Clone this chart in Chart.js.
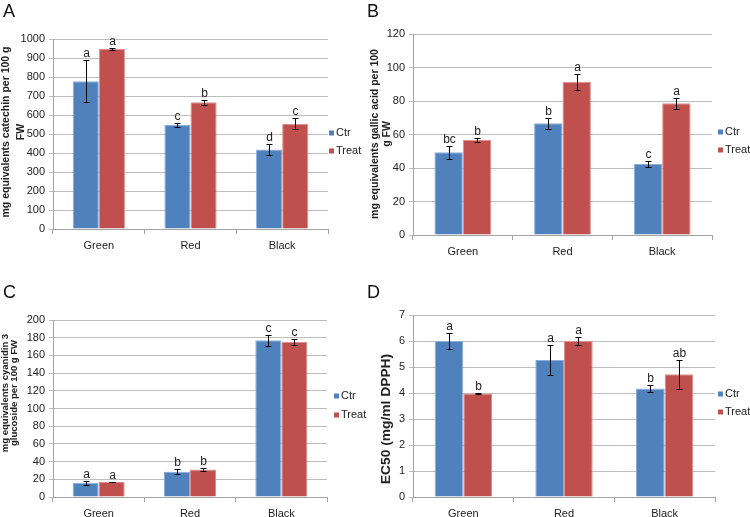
<!DOCTYPE html>
<html>
<head>
<meta charset="utf-8">
<script src="https://cdn.jsdelivr.net/npm/chart.js@4.4.1/dist/chart.umd.min.js"></script>
<style>
  body { margin:0; background:#fff; width:750px; height:517px; position:relative; overflow:hidden; font-family:"Liberation Sans", Arial, sans-serif; }
  canvas { position:absolute; }
  .tag { position:absolute; font-size:18px; line-height:18px; color:#111; }
</style>
</head>
<body>
<canvas id="chartA" width="375" height="258" style="left:0;top:0"></canvas>
<canvas id="chartB" width="390" height="258" style="left:360px;top:0"></canvas>
<canvas id="chartC" width="375" height="259" style="left:0;top:258px"></canvas>
<canvas id="chartD" width="390" height="259" style="left:360px;top:258px"></canvas>
<div class="tag" style="left:3px;top:2px">A</div>
<div class="tag" style="left:367px;top:2px">B</div>
<div class="tag" style="left:3px;top:283px">C</div>
<div class="tag" style="left:367px;top:283px">D</div>
<script>
Chart.defaults.font.family = "'Liberation Sans', Arial, sans-serif";
Chart.defaults.color = '#222';

const categories = ['Green', 'Red', 'Black'];
const seriesNames = ['Ctr', 'Treat'];

// A - catechin
const catechinCtr = [778, 547, 418];
const catechinCtrErr = [110, 12, 28];
const catechinTreat = [948, 667, 554];
const catechinTreatErr = [4, 13, 30];
const catechinLetters = [['a', 'c', 'd'], ['a', 'b', 'c']];
const catechinTicks = [0, 1000, 100];

// B - gallic acid
const gallicCtr = [49.4, 66.7, 42.4];
const gallicCtrErr = [4, 3.2, 1.6];
const gallicTreat = [56.7, 91.5, 78.6];
const gallicTreatErr = [1, 4.8, 3.3];
const gallicLetters = [['bc', 'b', 'c'], ['b', 'a', 'a']];
const gallicTicks = [0, 120, 20];

// C - cyanidin 3 glucoside
const cyanCtr = [16.1, 28.5, 177];
const cyanCtrErr = [2, 3, 6];
const cyanTreat = [16.9, 31.2, 175.1];
const cyanTreatErr = [0.5, 2, 3.4];
const cyanLetters = [['a', 'b', 'c'], ['a', 'b', 'c']];
const cyanTicks = [0, 200, 20];

// D - EC50
const ec50Ctr = [6.0, 5.27, 4.17];
const ec50CtrErr = [0.32, 0.57, 0.15];
const ec50Treat = [3.98, 6.0, 4.72];
const ec50TreatErr = [0.02, 0.16, 0.55];
const ec50Letters = [['a', 'a', 'b'], ['b', 'a', 'ab']];
const ec50Ticks = [0, 7, 1];

const FILL = ['#4f81bd', '#c0504d'];
const EDGE = ['#8aaedb', '#dc8f8d'];
const GRID = '#bdbdbd';
const AXIS = '#a3a3a3';
const FONT = "'Liberation Sans', Arial, sans-serif";

// error bars + significance letters
const errorBars = {
    id: 'errorBars',
    afterDatasetsDraw(chart) {
        const ctx = chart.ctx, y = chart.scales.y;
        ctx.save();
        chart.data.datasets.forEach((ds, i) => {
            chart.getDatasetMeta(i).data.forEach((bar, j) => {
                const x = Math.round(bar.x) + 0.5;
                const top = Math.round(y.getPixelForValue(ds.data[j] + ds.errors[j])) + 0.5;
                const bot = Math.round(y.getPixelForValue(ds.data[j] - ds.errors[j])) + 0.5;
                ctx.strokeStyle = '#000';
                ctx.lineWidth = 1;
                ctx.beginPath();
                ctx.moveTo(x, top); ctx.lineTo(x, bot);
                ctx.moveTo(x - 3, top); ctx.lineTo(x + 3, top);
                ctx.moveTo(x - 3, bot); ctx.lineTo(x + 3, bot);
                ctx.stroke();
                ctx.fillStyle = '#222';
                ctx.font = '12px ' + FONT;
                ctx.textAlign = 'center';
                ctx.textBaseline = 'alphabetic';
                ctx.fillText(ds.letters[j], x, top - 4);
            });
        });
        ctx.restore();
    }
};

function makePanel(id, p) {
    const cv = document.getElementById(id);
    const series = [[p.ctr, p.ctrErr], [p.treat, p.treatErr]];

    // legend and rotated axis title, drawn by hand like the excel layout
    const decor = {
        id: 'decor',
        afterDraw(chart) {
            const ctx = chart.ctx;
            ctx.save();
            ctx.font = '11px ' + FONT;
            ctx.textBaseline = 'middle';
            ctx.textAlign = 'left';
            seriesNames.forEach((name, i) => {
                const ly = p.legend[1] + i * p.legend[2];
                ctx.fillStyle = FILL[i];
                ctx.fillRect(p.legend[0], ly - 2.5, 5, 5);
                ctx.fillStyle = '#222';
                ctx.fillText(name, p.legend[0] + 7, ly);
            });
            ctx.font = 'bold ' + p.title.size + 'px ' + FONT;
            ctx.textAlign = 'center';
            p.title.lines.forEach((line, i) => {
                ctx.save();
                ctx.translate(p.title.x + i * p.title.lh, p.title.y);
                ctx.rotate(-Math.PI / 2);
                ctx.scale(p.title.stretch || 1, 1);
                ctx.fillText(line, 0, 0);
                ctx.restore();
            });
            ctx.restore();
        }
    };

    return new Chart(cv, {
        type: 'bar',
        data: {
            labels: categories,
            datasets: series.map((s, i) => ({
                label: seriesNames[i],
                data: s[0],
                errors: s[1],
                letters: p.letters[i],
                backgroundColor: FILL[i],
                borderColor: EDGE[i],
                borderWidth: 1,
                categoryPercentage: 0.57,
                barPercentage: 1
            }))
        },
        options: {
            responsive: false,
            animation: false,
            layout: {
                padding: { left: 0, top: p.area.top, right: cv.width - p.area.right, bottom: cv.height - p.area.bottom - 20 }
            },
            plugins: { legend: { display: false }, tooltip: { enabled: false } },
            scales: {
                x: {
                    grid: { display: true, drawOnChartArea: false, offset: true, tickLength: 5, color: AXIS },
                    border: { color: AXIS },
                    ticks: { padding: 5, font: { size: 11 }, color: '#222' },
                    afterFit: s => { s.height = 20; }
                },
                y: {
                    min: p.ticks[0], max: p.ticks[1],
                    grid: { color: GRID, tickLength: 4 },
                    border: { color: AXIS },
                    ticks: { stepSize: p.ticks[2], padding: 4, font: { size: 11 }, color: '#222', callback: v => String(v) },
                    afterFit: s => { s.width = 53; }
                }
            }
        },
        plugins: [errorBars, decor]
    });
}

makePanel('chartA', {
    ctr: catechinCtr, ctrErr: catechinCtrErr, treat: catechinTreat, treatErr: catechinTreatErr,
    letters: catechinLetters, ticks: catechinTicks,
    area: { top: 39, bottom: 229, right: 328 },
    legend: [329, 133, 18],
    title: { lines: ['mg equivalents catechin per 100 g', 'FW'], x: 6, lh: 15, y: 132, size: 10.5 }
});
makePanel('chartB', {
    ctr: gallicCtr, ctrErr: gallicCtrErr, treat: gallicTreat, treatErr: gallicTreatErr,
    letters: gallicLetters, ticks: gallicTicks,
    area: { top: 34, bottom: 235, right: 352 },
    legend: [358, 132, 18],
    title: { lines: ['mg equivalents gallic acid per 100', 'g FW'], x: 15, lh: 12, y: 134, size: 10.5 }
});
makePanel('chartC', {
    ctr: cyanCtr, ctrErr: cyanCtrErr, treat: cyanTreat, treatErr: cyanTreatErr,
    letters: cyanLetters, ticks: cyanTicks,
    area: { top: 62, bottom: 239, right: 327 },
    legend: [334, 138, 19],
    title: { lines: ['mg equivalents cyanidin 3', 'glucoside per 100 g FW'], x: 5.5, lh: 9, y: 135, size: 9.5 }
});
makePanel('chartD', {
    ctr: ec50Ctr, ctrErr: ec50CtrErr, treat: ec50Treat, treatErr: ec50TreatErr,
    letters: ec50Letters, ticks: ec50Ticks,
    area: { top: 57, bottom: 239, right: 355 },
    legend: [358, 136, 18],
    title: { lines: ['EC50 (mg/ml DPPH)'], x: 26.5, lh: 12, y: 161, size: 12, stretch: 1.15 }
});
</script>
</body>
</html>
